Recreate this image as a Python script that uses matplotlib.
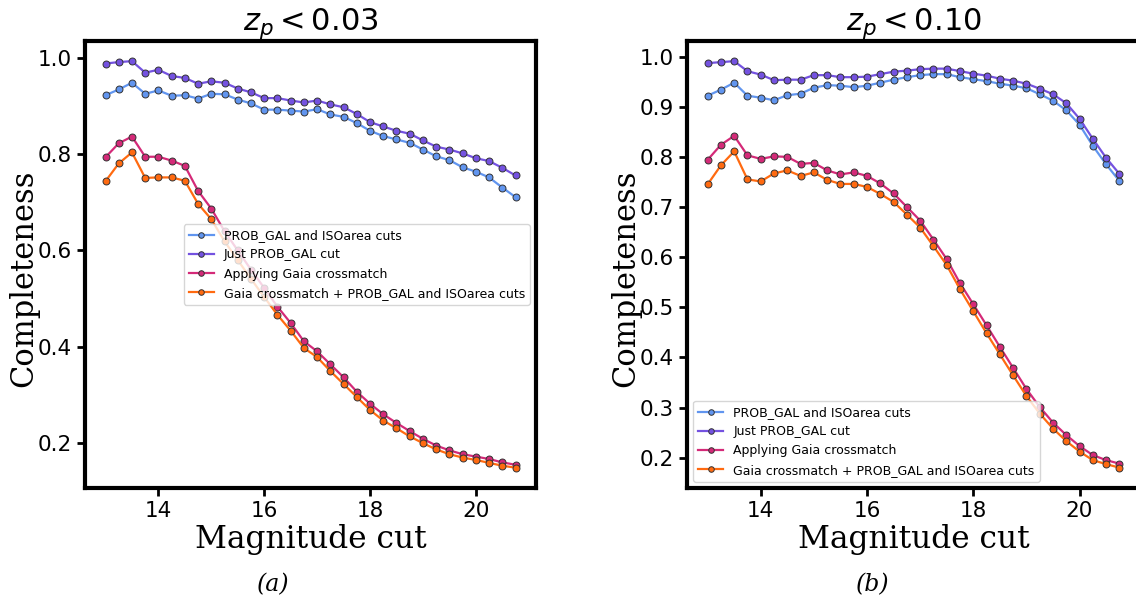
import matplotlib
matplotlib.use('Agg')
import matplotlib.pyplot as plt
import numpy as np

# magnitude cuts 13.00 ... 20.75
mag = np.arange(13.0, 20.76, 0.25)

labels = ['PROB_GAL and ISOarea cuts', 'Just PROB_GAL cut',
          'Applying Gaia crossmatch', 'Gaia crossmatch + PROB_GAL and ISOarea cuts']
colors = ['#6195ef', '#7452e0', '#d42a78', '#ff6a10']

# z_p < 0.03
a_iso = [0.923, 0.935, 0.949, 0.926, 0.933, 0.922, 0.923, 0.916, 0.926, 0.925, 0.914, 0.906,
         0.893, 0.893, 0.891, 0.889, 0.894, 0.883, 0.878, 0.865, 0.849, 0.838, 0.831, 0.824,
         0.810, 0.796, 0.788, 0.773, 0.764, 0.752, 0.731, 0.711]
a_prob = [0.989, 0.992, 0.994, 0.970, 0.976, 0.963, 0.959, 0.947, 0.952, 0.949, 0.937, 0.929,
          0.917, 0.917, 0.912, 0.908, 0.912, 0.904, 0.898, 0.884, 0.867, 0.858, 0.849, 0.843,
          0.829, 0.816, 0.810, 0.802, 0.792, 0.786, 0.772, 0.756]
a_gaia = [0.794, 0.823, 0.837, 0.795, 0.795, 0.787, 0.776, 0.724, 0.687, 0.640, 0.600, 0.560,
          0.522, 0.483, 0.449, 0.411, 0.390, 0.363, 0.336, 0.306, 0.281, 0.259, 0.241, 0.224,
          0.208, 0.194, 0.184, 0.176, 0.171, 0.166, 0.159, 0.154]
a_both = [0.744, 0.781, 0.804, 0.751, 0.752, 0.752, 0.745, 0.697, 0.665, 0.619, 0.580, 0.541,
          0.503, 0.466, 0.433, 0.397, 0.378, 0.349, 0.322, 0.295, 0.268, 0.246, 0.230, 0.213,
          0.199, 0.186, 0.176, 0.169, 0.164, 0.158, 0.152, 0.148]

# z_p < 0.10
b_iso = [0.922, 0.934, 0.948, 0.922, 0.918, 0.913, 0.923, 0.926, 0.938, 0.943, 0.942, 0.939,
         0.942, 0.948, 0.954, 0.959, 0.963, 0.965, 0.965, 0.959, 0.955, 0.951, 0.946, 0.942,
         0.937, 0.925, 0.912, 0.893, 0.864, 0.822, 0.785, 0.752]
b_prob = [0.987, 0.989, 0.991, 0.971, 0.964, 0.953, 0.954, 0.954, 0.963, 0.963, 0.959, 0.959,
          0.960, 0.965, 0.970, 0.972, 0.975, 0.976, 0.976, 0.971, 0.966, 0.962, 0.956, 0.952,
          0.946, 0.936, 0.925, 0.907, 0.876, 0.836, 0.798, 0.766]
b_gaia = [0.794, 0.824, 0.842, 0.803, 0.796, 0.801, 0.800, 0.786, 0.788, 0.773, 0.765, 0.769,
          0.762, 0.747, 0.727, 0.700, 0.673, 0.635, 0.596, 0.548, 0.506, 0.464, 0.421, 0.379,
          0.337, 0.301, 0.270, 0.245, 0.223, 0.205, 0.195, 0.188]
b_both = [0.745, 0.783, 0.811, 0.755, 0.751, 0.767, 0.773, 0.762, 0.769, 0.754, 0.746, 0.746,
          0.740, 0.726, 0.710, 0.685, 0.659, 0.622, 0.584, 0.536, 0.492, 0.448, 0.406, 0.364,
          0.323, 0.288, 0.258, 0.233, 0.212, 0.195, 0.187, 0.180]

fig = plt.figure(figsize=(11.36, 6), dpi=100)
ax1 = fig.add_axes([85 / 1136, 0.1867, 451 / 1136, 0.7453])
# right panel runs off the edge of the image, as in the original
ax2 = fig.add_axes([687 / 1136, 0.1867, 453 / 1136, 0.7453])

panels = [(ax1, [a_iso, a_prob, a_gaia, a_both], r'$z_p < 0.03$', 'center right', '(a)', 273),
          (ax2, [b_iso, b_prob, b_gaia, b_both], r'$z_p < 0.10$', 'lower left', '(b)', 873)]

for ax, series, title, loc, cap, capx in panels:
    for ys, c, lab in zip(series, colors, labels):
        ax.plot(mag, ys, '-o', color=c, lw=1.6, ms=5, mec='#333333', mew=0.7, label=lab)
    ax.set_title(title, fontsize=22)
    ax.set_xlabel('Magnitude cut', fontsize=22.5, family='DejaVu Serif', labelpad=2)
    ax.set_ylabel('Completeness', fontsize=22, family='DejaVu Serif')
    ax.yaxis.set_label_coords(-0.102, 0.47)
    ax.set_xticks([14, 16, 18, 20])
    ax.tick_params(labelsize=15.5, width=2, length=6)
    for s in ax.spines.values():
        s.set_linewidth(3)
    ax.legend(loc=loc, fontsize=9, handlelength=2, markerscale=0.8)
    fig.text(capx / 1136, 0.015, cap, ha='center', fontsize=17,
             family='DejaVu Serif', style='italic')

fig.savefig('out.png', dpi=100)
